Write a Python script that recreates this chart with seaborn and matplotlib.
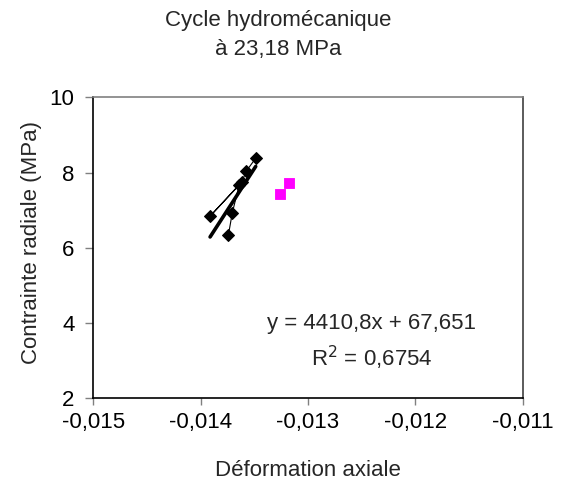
import numpy as np
import pandas as pd
import seaborn as sns
import matplotlib.pyplot as plt
from matplotlib.ticker import FuncFormatter, MultipleLocator

# Donnees
def_axiale_noir = [-0.013487, -0.013577, -0.013617, -0.013912, -0.013640, -0.013705, -0.013742]
contrainte_noir = [8.38, 8.03, 7.74, 6.84, 7.68, 6.93, 6.33]
def_axiale_rose = [-0.013176, -0.013260]
contrainte_rose = [7.72, 7.43]
pente = 4410.8
ordonnee = 67.651
r2 = 0.6754

sns.set_style("white")
plt.rcParams['font.family'] = ['Liberation Sans', 'DejaVu Sans']

fig = plt.figure(figsize=(5.63, 4.86), dpi=100)
ax = fig.add_axes([0.1657, 0.1805, 0.7627, 0.6193])

df_noir = pd.DataFrame({'x': def_axiale_noir, 'y': contrainte_noir})
sns.lineplot(data=df_noir, x='x', y='y', sort=False, color='black', lw=0.8,
             marker='D', markersize=6, markeredgecolor='black', ax=ax)

# Courbe de tendance
xt = np.array([min(def_axiale_noir), max(def_axiale_noir)])
sns.lineplot(x=xt, y=pente * xt + ordonnee, color='black', lw=2.6, ax=ax)

sns.scatterplot(x=def_axiale_rose, y=contrainte_rose, marker='s', s=60,
                color='#FF00FF', edgecolor='#FF00FF', ax=ax)

ax.set_xlim(-0.015, -0.011)
ax.set_ylim(2, 10)
ax.xaxis.set_major_locator(MultipleLocator(0.001))
ax.yaxis.set_major_locator(MultipleLocator(2))
ax.xaxis.set_major_formatter(FuncFormatter(lambda v, p: f"{v:.3f}".replace('.', ',')))
ax.yaxis.set_major_formatter(FuncFormatter(lambda v, p: f"{v:.0f}"))

for s in ['left', 'bottom']:
    ax.spines[s].set_color('black')
    ax.spines[s].set_linewidth(1.2)
for s in ['top', 'right']:
    ax.spines[s].set_color('#808080')
    ax.spines[s].set_linewidth(1.2)
ax.spines['right'].set_color('#404040')

ax.tick_params(axis='both', direction='out', width=1, color='#808080',
               labelsize=16, labelcolor='black', left=True, bottom=True)
ax.tick_params(axis='x', length=5, pad=5)
ax.tick_params(axis='y', length=5.5, pad=8)

ax.set_xlabel("Déformation axiale", fontsize=16)
ax.set_ylabel("Contrainte radiale (MPa)", fontsize=16)
ax.xaxis.set_label_coords(0.5, -0.205)
ax.yaxis.set_label_coords(-0.12, 0.516)

fig.text(0.494, 0.928, "Cycle hydromécanique\nà 23,18 MPa", fontsize=16,
         ha='center', va='center', linespacing=1.5)

r2txt = f"{r2:.4f}".replace('.', ',')
ax.text(-0.012404, 4.0, f"y = {pente:.1f}x + {ordonnee:.3f}".replace('.', ','),
        fontsize=16, ha='center', va='center')
ax.text(-0.012404, 3.07, f"R$^2$ = {r2txt}", fontsize=16, ha='center', va='center')

plt.savefig('out.png', dpi=100)
